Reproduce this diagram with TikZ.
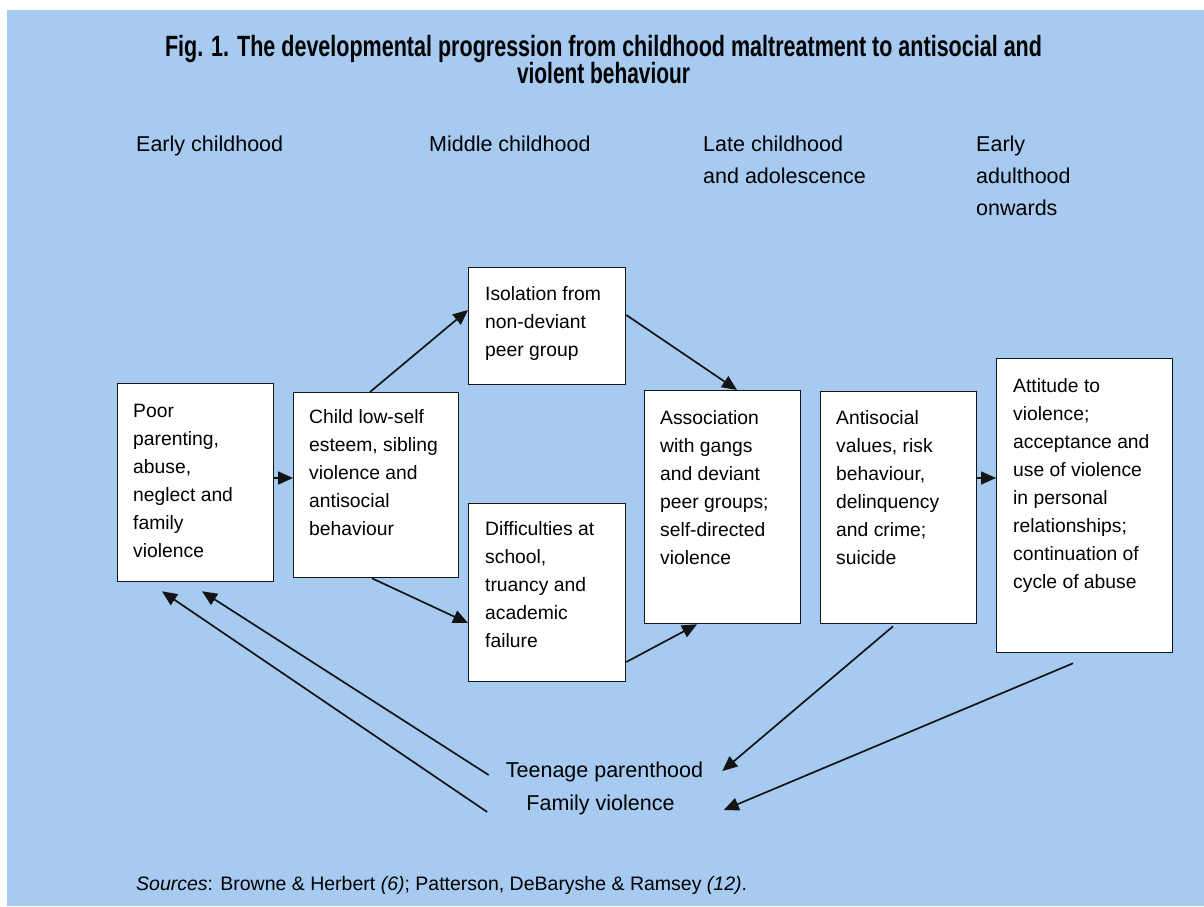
\documentclass[tikz,border=0pt]{standalone}
\usepackage{fontspec}
\setmainfont{Liberation Sans}
\usetikzlibrary{arrows.meta,calc}
\definecolor{bgblue}{RGB}{166,202,240}
\definecolor{inkc}{RGB}{20,20,20}
\begin{document}
\begin{tikzpicture}[x=1pt,y=-1pt,
  boxshape/.style={draw=inkc, line width=1.3pt, fill=white, inner sep=0pt, anchor=north west},
  boxtext/.style={anchor=base west, inner sep=0pt, font=\fontsize{19.3}{28}\selectfont, text=black},
  header/.style={anchor=base west, inner sep=0pt, font=\fontsize{21.5}{32}\selectfont, text=black},
  lowlabel/.style={anchor=base, inner sep=0pt, font=\fontsize{21.5}{26}\selectfont, text=black},
  titletext/.style={anchor=base, inner sep=0pt, font=\fontsize{29.3}{30}\selectfont\bfseries, text=black},
  arr/.style={draw=inkc, line width=1.7pt, -{Triangle[length=15pt,width=13pt]}}
]
\useasboundingbox (0,0) rectangle (1204,906);
\fill[white] (0,0) rectangle (1204,906);
\fill[bgblue] (7,10) rectangle (1204,906);

% title
\node[titletext] (t1) at (603.5,56) {\resizebox{877pt}{\height}{Fig. 1. The developmental progression from childhood maltreatment to antisocial and}};
\node[titletext] (t2) at (603.5,83) {\resizebox{173pt}{\height}{violent behaviour}};

% headers
\node[header] (h1) at (136,151) {Early childhood};
\node[header] (h2) at (429,151) {Middle childhood};
\node[header] (h3) at (703,151) {\parbox[t]{200pt}{Late childhood\\and adolescence}};
\node[header] (h4) at (976,151) {\parbox[t]{200pt}{Early\\adulthood\\onwards}};

% boxes
\node[boxshape, minimum width=156pt, minimum height=198pt] (A) at (117,383) {};
\node[boxshape, minimum width=165pt, minimum height=185pt] (B) at (293,392) {};
\node[boxshape, minimum width=157pt, minimum height=117pt] (C) at (468,267) {};
\node[boxshape, minimum width=157pt, minimum height=178pt] (D) at (468,503) {};
\node[boxshape, minimum width=156pt, minimum height=233pt] (E) at (644,390) {};
\node[boxshape, minimum width=156pt, minimum height=232pt] (F) at (820,391) {};
\node[boxshape, minimum width=176pt, minimum height=294pt] (G) at (996,358) {};

\node[boxtext] (At) at ($(A.north west)+(16,34)$) {\parbox[t]{140pt}{\raggedright Poor\\parenting,\\abuse,\\neglect and\\family\\violence}};
\node[boxtext] (Bt) at ($(B.north west)+(16,31)$) {\parbox[t]{150pt}{\raggedright Child low-self\\esteem, sibling\\violence and\\antisocial\\behaviour}};
\node[boxtext] (Ct) at ($(C.north west)+(17,33)$) {\parbox[t]{140pt}{\raggedright Isolation from\\non-deviant\\peer group}};
\node[boxtext] (Dt) at ($(D.north west)+(17,32)$) {\parbox[t]{140pt}{\raggedright Difficulties at\\school,\\truancy and\\academic\\failure}};
\node[boxtext] (Et) at ($(E.north west)+(16,34)$) {\parbox[t]{140pt}{\raggedright Association\\with gangs\\and deviant\\peer groups;\\self-directed\\violence}};
\node[boxtext] (Ft) at ($(F.north west)+(16,33)$) {\parbox[t]{140pt}{\raggedright Antisocial\\values, risk\\behaviour,\\delinquency\\and crime;\\suicide}};
\node[boxtext] (Gt) at ($(G.north west)+(17,34)$) {\parbox[t]{160pt}{\raggedright Attitude to\\violence;\\acceptance and\\use of violence\\in personal\\relationships;\\continuation of\\cycle of abuse}};

% bottom labels
\node[lowlabel] (TP) at (604.5,777) {Teenage parenthood};
\node[lowlabel] (FV) at (600.5,810) {Family violence};

% sources
\node[anchor=base west, inner sep=0pt, font=\fontsize{19.5}{22}\selectfont] (src) at (136,890)
  {\textit{Sources}: Browne \& Herbert \textit{(6)}; Patterson, DeBaryshe \& Ramsey \textit{(12)}.};

% connectors
\draw[arr] ($(A.north east)+(0,95)$) -- ($(B.north west)+(0,86)$);
\draw[arr] ($(B.north west)+(77,0)$) -- ($(C.north west)+(0,43)$);
\draw[arr] ($(B.south west)+(79,0)$) -- ($(D.north west)+(0,120)$);
\draw[arr] ($(C.north east)+(0,48)$) -- ($(E.north west)+(93,0)$);
\draw[arr] ($(D.north east)+(0,159)$) -- ($(E.south west)+(53,0)$);
\draw[arr] ($(F.north east)+(0,87)$) -- ($(G.north west)+(0,120)$);
\draw[arr] ($(F.south west)+(73,2)$) -- ($(TP.base east)+(19,-6)$);
\draw[arr] ($(G.south west)+(77,10)$) -- ($(FV.base east)+(49,0)$);
\draw[arr] ($(TP.base west)+(-17,-2)$) -- ($(A.south west)+(85,9)$);
\draw[arr] ($(FV.base west)+(-39,2)$) -- ($(A.south west)+(45,9)$);
\end{tikzpicture}
\end{document}
